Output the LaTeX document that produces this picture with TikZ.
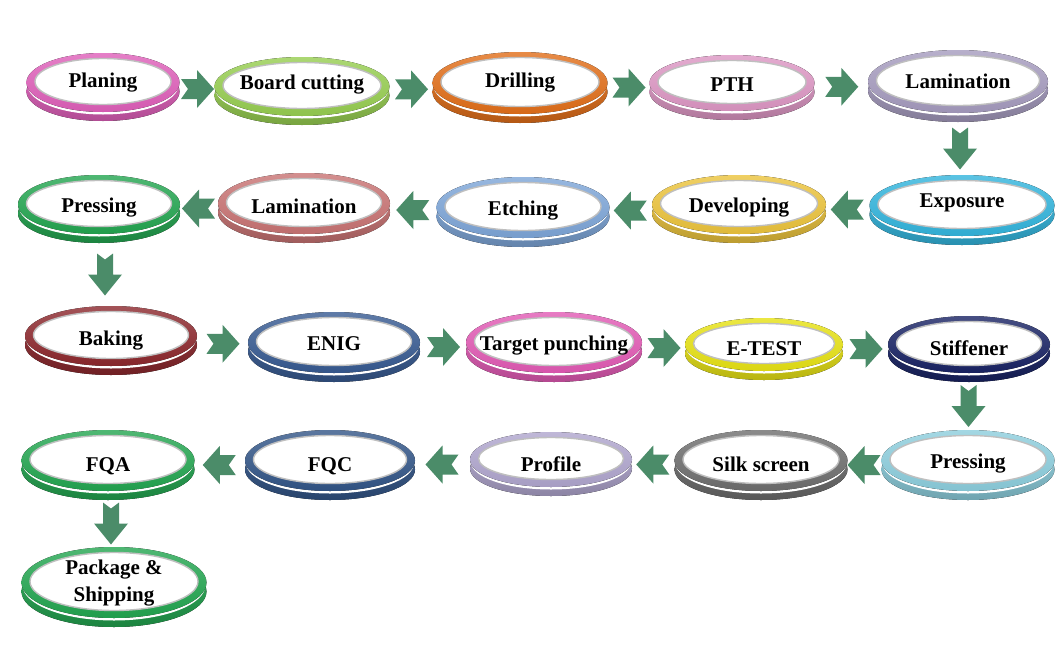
\documentclass[tikz,border=0pt]{standalone}
\usepackage{fontspec}
\setmainfont{Liberation Serif}
\usetikzlibrary{calc,shapes.geometric}
\definecolor{cPlan}{RGB}{222,95,185}
\definecolor{cBoard}{RGB}{150,205,80}
\definecolor{cDrill}{RGB}{225,110,25}
\definecolor{cPTH}{RGB}{220,150,195}
\definecolor{cLamA}{RGB}{165,155,190}
\definecolor{cExpo}{RGB}{50,180,220}
\definecolor{cDevel}{RGB}{235,195,60}
\definecolor{cEtch}{RGB}{125,165,215}
\definecolor{cLamB}{RGB}{200,115,115}
\definecolor{cGreen}{RGB}{35,165,80}
\definecolor{cBake}{RGB}{140,40,45}
\definecolor{cENIG}{RGB}{55,90,145}
\definecolor{cTarget}{RGB}{225,90,180}
\definecolor{cETest}{RGB}{230,225,20}
\definecolor{cStiff}{RGB}{25,35,100}
\definecolor{cPressB}{RGB}{140,205,220}
\definecolor{cSilk}{RGB}{110,110,110}
\definecolor{cProf}{RGB}{175,165,205}
\definecolor{cFQC}{RGB}{50,85,135}
\definecolor{arrowgreen}{RGB}{75,140,105}
\tikzset{
  platenode/.style={ellipse, inner sep=0pt, draw=none},
  lbl/.style={inner sep=0pt, align=center, yshift=-2.5pt, font=\fontsize{21}{27}\selectfont\bfseries, text=black},
  hchev/.pic={\fill[arrowgreen] (-16,-10) -- (0,-10) -- (0,-19) -- (17,0) -- (0,19) -- (0,10) -- (-16,10) -- (-9,0) -- cycle;},
  vchev/.pic={\fill[arrowgreen] (-8,-21) -- (0,-15) -- (8,-21) -- (8,0) -- (17,0) -- (0,21) -- (-17,0) -- (-8,0) -- cycle;}
}
% name, cx, cy, rx, ry, colour, text y, text
\newcommand\plate[8]{%
  \fill[top color=#6!90!white, bottom color=#6!80!black] (#2,#3+9) ellipse [x radius=#4, y radius=#5];
  \fill[white] (#2,#3+2.5) ellipse [x radius=#4-1, y radius=#5];
  \fill[top color=#6!80!white, bottom color=#6!95!black] (#2,#3) ellipse [x radius=#4, y radius=#5];
  \fill[white, draw=gray!50, line width=1.4pt] (#2,#3-1) ellipse [x radius=#4-8.5, y radius=#5-6.5];
  \node[platenode, minimum width={2*#4pt}, minimum height={(2*#5+9)*1pt}] (#1) at (#2,#3+4.5) {};
  \node[lbl] (#1-t) at (#2,#7) {#8};
}
\newcommand\rarr[2]{\pic at ($(#1.east)!0.5!(#2.west)$) {hchev};}
\newcommand\larr[2]{\pic[xscale=-1] at ($(#1.west)!0.5!(#2.east)$) {hchev};}
\newcommand\darr[2]{\pic at ($(#1.south)!0.5!(#2.north)$) {vchev};}
\begin{document}
\begin{tikzpicture}[x=1pt,y=-1pt]
\useasboundingbox (0,0) rectangle (1061,646);
\fill[white] (0,0) rectangle (1061,646);
% row 1
\plate{p1}{103}{82.5}{76.5}{29.5}{cPlan}{80}{Planing}
\plate{p2}{302}{86.5}{87.5}{29.5}{cBoard}{82}{Board cutting}
\plate{p3}{520}{83}{87.5}{31}{cDrill}{80}{Drilling}
\plate{p4}{732}{83}{82.5}{28}{cPTH}{82}{PTH}
\plate{p5}{958}{81.5}{90}{31.5}{cLamA}{79}{Lamination}
% row 2
\plate{p6}{962}{205.5}{92.5}{30.5}{cExpo}{200}{Exposure}
\plate{p7}{739}{204.5}{87}{29.5}{cDevel}{205}{Developing}
\plate{p8}{523}{207.5}{86.5}{30.5}{cEtch}{208}{Etching}
\plate{p9}{304}{203.5}{86}{30.5}{cLamB}{204}{Lamination}
\plate{p10}{99}{204.5}{81}{29.5}{cGreen}{205}{Pressing}
% row 3
\plate{p11}{111}{336}{86}{30}{cBake}{338}{Baking}
\plate{p12}{334}{342.5}{86}{30.5}{cENIG}{341}{ENIG}
\plate{p13}{554}{342.5}{88}{30.5}{cTarget}{343}{Target punching}
\plate{p14}{764}{344.5}{79}{26.5}{cETest}{346}{E-TEST}
\plate{p15}{969}{344.5}{81}{28.5}{cStiff}{346}{Stiffener}
% row 4
\plate{p16}{968}{460.5}{86.5}{30.5}{cPressB}{461}{Pressing}
\plate{p17}{761}{460.5}{86.5}{30.5}{cSilk}{462}{Silk screen}
\plate{p18}{551}{459.5}{81}{27.5}{cProf}{462}{Profile}
\plate{p19}{330}{460.5}{85}{30.5}{cFQC}{464}{FQC}
\plate{p20}{108}{460.5}{86.5}{30.5}{cGreen}{464}{FQA}
% row 5
\plate{p21}{114}{582.5}{92.5}{35.5}{cGreen}{580.5}{Package \&\\Shipping}
% arrows
\rarr{p1}{p2}
\rarr{p2}{p3}
\rarr{p3}{p4}
\rarr{p4}{p5}
\darr{p5}{p6}
\larr{p6}{p7}
\larr{p7}{p8}
\larr{p8}{p9}
\larr{p9}{p10}
\darr{p10}{p11}
\rarr{p11}{p12}
\rarr{p12}{p13}
\rarr{p13}{p14}
\rarr{p14}{p15}
\darr{p15}{p16}
\larr{p16}{p17}
\larr{p17}{p18}
\larr{p18}{p19}
\larr{p19}{p20}
\darr{p20}{p21}
\end{tikzpicture}
\end{document}
